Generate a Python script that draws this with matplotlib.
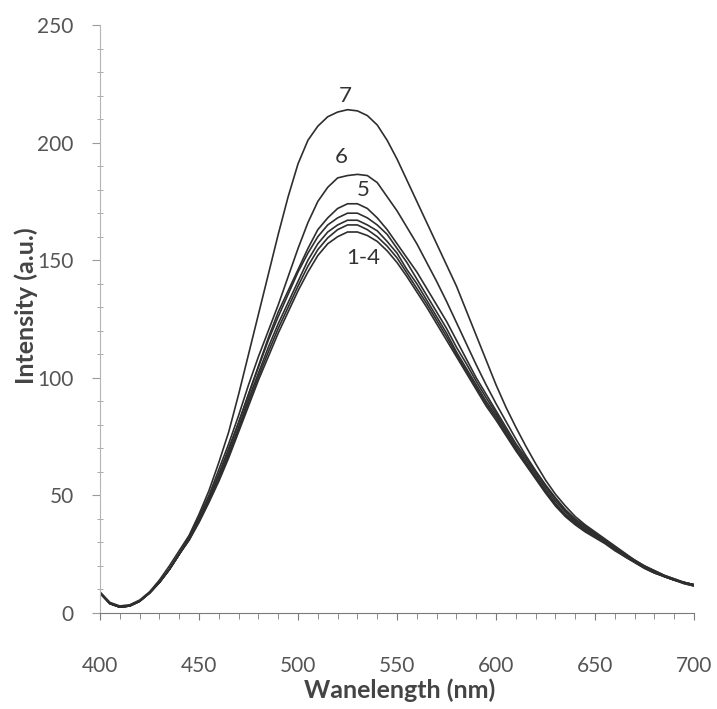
import numpy as np
import matplotlib as mpl
import matplotlib.pyplot as plt
from matplotlib.ticker import MultipleLocator

plt.rcParams['font.family'] = ['Lato', 'DejaVu Sans']

# 発光スペクトル (5 nm刻み)
wavelength = np.arange(400, 701, 5)

low_part = [8.5, 4, 2.5, 3, 5, 8.5, 13, 18.5, 25]

curve_1 = low_part + [31, 38.5, 47, 56, 66, 77, 88, 99, 109, 119, 128, 137, 145, 152, 157, 160, 162, 162, 160.5,
                      158, 154, 149, 143, 136.5, 130, 123, 116, 109, 102, 95, 88, 82, 75.5, 69, 63, 57, 51, 45.5,
                      41, 37.5, 34.5, 32, 29.5, 26.5, 24, 21.5, 19, 17, 15.5, 14, 12.5, 11.5]
curve_2 = low_part + [31, 39, 47.5, 57, 67, 78, 89.5, 100.5, 111, 121, 130, 139, 147.5, 154.5, 159.5, 163, 165, 165, 163,
                      160, 156, 151, 144.5, 138, 131.5, 124.5, 117.5, 110, 103, 96, 89, 83, 76, 69.5, 63.5, 57.5, 51.5, 46,
                      41.5, 38, 35, 32.5, 30, 27, 24, 21.5, 19, 17, 15.5, 14, 12.5, 11.5]
curve_3 = low_part + [31.5, 39.5, 48, 57.5, 68, 79, 91, 102, 113, 123, 132, 141, 150, 157, 162, 165, 167, 167, 165,
                      162.5, 158, 153, 146, 140, 133, 126, 119, 111, 104, 97, 90, 84, 77, 70, 64, 58, 52, 46.5,
                      42, 38.5, 35.5, 33, 30.5, 27.5, 24.5, 22, 19.5, 17.5, 15.5, 14, 13, 12]
curve_4 = low_part + [32, 40, 49, 59, 69.5, 81, 93, 104.5, 116, 126, 135.5, 145, 153, 160, 165, 168, 170, 170, 168,
                      165, 161, 155, 149, 142, 135, 128, 121, 113, 106, 98.5, 91.5, 85, 78, 71, 65, 59, 53, 47.5,
                      43, 39, 36, 33.5, 31, 28, 25, 22, 19.5, 17.5, 15.5, 14, 13, 12]
curve_5 = low_part + [32, 40, 49, 59, 70, 81, 93, 105, 117, 128, 137, 146, 155, 163, 168, 172, 174, 174, 172,
                      168, 163, 157, 151, 145, 138, 131, 124, 116, 108, 100, 93, 86, 79, 72, 66, 60, 54, 48.5,
                      43.5, 39.5, 36.5, 33.5, 31, 28, 25, 22, 19.5, 17.5, 15.5, 14, 13, 12]
curve_6 = low_part + [32.5, 41, 50, 61, 72, 84, 97, 109, 120, 131, 143, 155, 166, 175, 181, 185, 186, 186.5, 186,
                      183, 177, 171, 164, 157, 149, 141, 132.5, 123.5, 114.5, 105.5, 97, 89, 81.5, 74, 67, 60.5, 54.5, 49,
                      44, 40, 37, 34, 31, 28, 25, 22.5, 20, 18, 16, 14.5, 13, 12]
curve_7 = [9, 4.5, 3, 3.5, 5.5, 9, 14, 20, 26.5] + [33, 42, 52, 64, 77, 93, 110, 127, 144, 161, 177, 191, 201, 207, 211, 213, 214, 213.5, 211.5,
                                                 207.5, 201, 193, 184, 175, 166, 157, 148, 139, 128.5, 118, 107.5, 97, 87.5, 79, 71, 63.5, 56.5, 50.5,
                                                 45.5, 41, 37.5, 34.5, 31.5, 28.5, 25.5, 22.5, 20, 18, 16, 14.5, 13, 12]

curves = [curve_1, curve_2, curve_3, curve_4, curve_5, curve_6, curve_7]

# ラベル (番号, 位置)
labels = ['7', '6', '5', '1-4']
label_x = [524, 522, 533, 533]
label_y = [220, 194, 180, 151]

fig = plt.figure(figsize=(7.17, 7.09), dpi=100)
ax = fig.add_axes([0.1395, 0.1354, 0.8285, 0.8293])

line_color = '#2e2e2e'
for c in curves:
	ax.plot(wavelength, c, color=line_color, lw=1.2)

for t, x, y in zip(labels, label_x, label_y):
	ax.text(x, y, t, fontsize=16, color='#333333', ha='center', va='center')

ax.set_xlim(400, 700)
ax.set_ylim(0, 250)

# 軸の設定
ax.spines['top'].set_visible(False)
ax.spines['right'].set_visible(False)
ax.spines['left'].set_color('#b5b5b5')
ax.spines['bottom'].set_color('#7a7a7a')

ax.xaxis.set_major_locator(MultipleLocator(50))
ax.xaxis.set_minor_locator(MultipleLocator(10))
ax.yaxis.set_major_locator(MultipleLocator(50))
ax.yaxis.set_minor_locator(MultipleLocator(10))

ax.tick_params(which='major', axis='y', direction='out', length=6, color='#9a9a9a', labelsize=15, labelcolor='#555555', pad=13)
ax.tick_params(which='minor', axis='y', direction='inout', length=4, color='#9a9a9a')
ax.tick_params(which='major', axis='x', direction='out', length=5, color='#7a7a7a', labelsize=15, labelcolor='#555555', pad=26)
ax.tick_params(which='minor', axis='x', direction='out', length=4, color='#7a7a7a')

ax.set_xlabel('Wanelength (nm)', fontsize=18, fontweight='bold', color='#444444')
ax.xaxis.set_label_coords(0.505, -0.112)
ax.set_ylabel('Intensity (a.u.)', fontsize=18, fontweight='bold', color='#444444')
ax.yaxis.set_label_coords(-0.105, 0.522)

plt.savefig('out.png', dpi=100)
plt.close('all')
